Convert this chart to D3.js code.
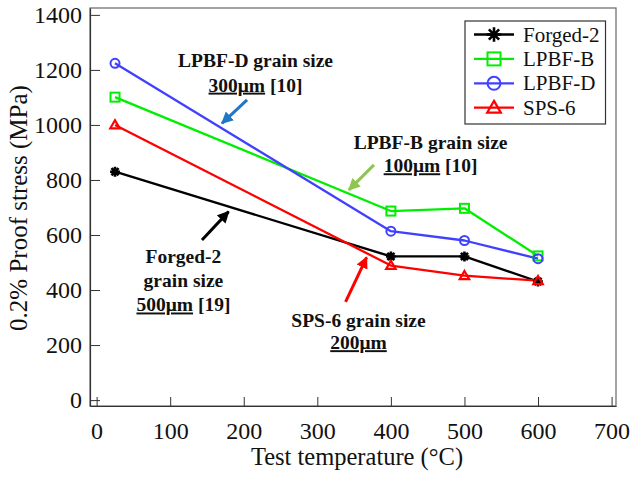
<!DOCTYPE html>
<html><head><meta charset="utf-8">
<script src="https://cdn.jsdelivr.net/npm/d3@7"></script>
<style>
html,body{margin:0;padding:0;background:#fff;}
svg{display:block;font-family:"Liberation Serif","Times New Roman",serif;}
</style></head>
<body>
<svg id="chart" width="630" height="481"></svg>
<script>
// ---- data ----
const temps = [25, 400, 500, 600];
const seriesNames = ["Forged-2", "LPBF-B", "LPBF-D", "SPS-6"];
const forged2 = [830, 522, 522, 431];
const lpbfB = [1101, 687, 697, 524];
const lpbfD = [1224, 614, 580, 514];
const sps6 = [1000, 489, 452, 434];
const xTicks = [0, 100, 200, 300, 400, 500, 600, 700];
const yTicks = [0, 200, 400, 600, 800, 1000, 1200, 1400];
const seriesColors = ["#000000", "#00ee00", "#4040ff", "#ff0000"];
const seriesMarkers = ["asterisk", "square", "circle", "triangle"];

// annotations (data coordinates)
const annoTexts = [
  {lines: [[["LPBF-D grain size", false]], [["300μm", true], [" [10]", false]]], x: 216, y: [1212, 1121]},
  {lines: [[["LPBF-B grain size", false]], [["100μm", true], [" [10]", false]]], x: 454, y: [913, 828]},
  {lines: [[["Forged-2", false]], [["grain size", false]], [["500μm", true], [" [19]", false]]], x: 118, y: [498, 411, 322]},
  {lines: [[["SPS-6 grain size", false]], [["200μm", true]]], x: 356, y: [267, 185]}
];
const arrows = [
  {from: [204.5, 1091], to: [170.4, 1006], color: "#1f78c4"},
  {from: [377, 855], to: [343, 764], color: "#8fc553"},
  {from: [143.2, 582], to: [179.4, 685], color: "#000000"},
  {from: [338.4, 357], to: [367, 519], color: "#ff0000"}
];

const allSeries = [forged2, lpbfB, lpbfD, sps6];

const svg = d3.select("#chart");
const L = 90, R = 616, T = 8, B = 406;
const x = d3.scaleLinear().domain([-9, 706]).range([L, R]);
const y = d3.scaleLinear().domain([-21.5, 1425]).range([B, T]);
const FONT = "Liberation Serif";

// frame
svg.append("rect").attr("x", L).attr("y", T).attr("width", R - L).attr("height", B - T)
  .attr("fill", "none").attr("stroke", "#666").attr("stroke-width", 1.2);

// axes (inward ticks)
const xAxis = d3.axisBottom(x).tickValues(xTicks).tickFormat(d3.format("d"))
  .tickSizeInner(-9).tickSizeOuter(0).tickPadding(16);
const gx = svg.append("g").attr("transform", `translate(0,${B})`).call(xAxis)
  .attr("font-family", FONT).attr("font-size", 24);
gx.select(".domain").attr("stroke", "#333").attr("stroke-width", 1.2);
gx.selectAll(".tick line").attr("stroke", "#333").attr("stroke-width", 1);
gx.selectAll(".tick text").attr("fill", "#111");

const yAxis = d3.axisLeft(y).tickValues(yTicks).tickFormat(d3.format("d"))
  .tickSizeInner(-10).tickSizeOuter(0).tickPadding(8);
const gy = svg.append("g").attr("transform", `translate(${L},0)`).call(yAxis)
  .attr("font-family", FONT).attr("font-size", 24);
gy.select(".domain").attr("stroke", "#333").attr("stroke-width", 1.2);
gy.selectAll(".tick line").attr("stroke", "#333").attr("stroke-width", 1);
gy.selectAll(".tick text").attr("fill", "#111");

// axis titles
svg.append("text").attr("x", (L + R) / 2 + 4).attr("y", 465).attr("text-anchor", "middle")
  .attr("font-size", 24.5).attr("fill", "#111").text("Test temperature (°C)");
svg.append("text").attr("transform", `translate(27,${(T + B) / 2 + 1}) rotate(-90)`).attr("text-anchor", "middle")
  .attr("font-size", 25).attr("fill", "#111").text("0.2% Proof stress (MPa)");

// marker drawing
function drawMarker(g, type, cx, cy, s, color) {
  const h = s / 2;
  if (type === "asterisk") {
    const hh = h * 1.1, d = hh * 0.72;
    g.append("path").attr("d",
      `M${cx - hh},${cy}L${cx + hh},${cy}M${cx},${cy - hh}L${cx},${cy + hh}` +
      `M${cx - d},${cy - d}L${cx + d},${cy + d}M${cx - d},${cy + d}L${cx + d},${cy - d}`)
      .attr("stroke", color).attr("stroke-width", 2.6).attr("fill", "none");
  } else if (type === "square") {
    g.append("rect").attr("x", cx - h).attr("y", cy - h).attr("width", s).attr("height", s)
      .attr("fill", "none").attr("stroke", color).attr("stroke-width", 2);
  } else if (type === "circle") {
    g.append("circle").attr("cx", cx).attr("cy", cy).attr("r", h)
      .attr("fill", "none").attr("stroke", color).attr("stroke-width", 2);
  } else if (type === "triangle") {
    g.append("path").attr("d", `M${cx},${cy - h * 1.05}L${cx + h * 1.05},${cy + h * 0.75}L${cx - h * 1.05},${cy + h * 0.75}Z`)
      .attr("fill", "none").attr("stroke", color).attr("stroke-width", 2.2);
  }
}

// lines
const line = d3.line().x((d, i) => x(temps[i])).y(d => y(d));
allSeries.forEach((vals, si) => {
  svg.append("path").datum(vals).attr("d", line).attr("fill", "none")
    .attr("stroke", seriesColors[si]).attr("stroke-width", 2.3).attr("stroke-linejoin", "round");
});
allSeries.forEach((vals, si) => {
  const g = svg.append("g");
  vals.forEach((v, i) => drawMarker(g, seriesMarkers[si], x(temps[i]), y(v), 9, seriesColors[si]));
});

// legend
const lg = svg.append("g");
lg.append("rect").attr("x", 465).attr("y", 21).attr("width", 140.5).attr("height", 103)
  .attr("fill", "#fff").attr("stroke", "#333").attr("stroke-width", 1.2);
seriesNames.forEach((name, i) => {
  const yy = 34.5 + i * 24.4;
  lg.append("line").attr("x1", 474).attr("x2", 514).attr("y1", yy).attr("y2", yy)
    .attr("stroke", seriesColors[i]).attr("stroke-width", 2.3);
  drawMarker(lg, seriesMarkers[i], 494, yy, 13, seriesColors[i]);
  lg.append("text").attr("x", 523).attr("y", yy + 7).attr("font-size", 21).attr("fill", "#111").text(name);
});

// arrows
const defs = svg.append("defs");
arrows.forEach((a, i) => {
  defs.append("marker").attr("id", "ah" + i).attr("viewBox", "0 0 10 10").attr("refX", 9).attr("refY", 5)
    .attr("markerWidth", 4).attr("markerHeight", 4).attr("orient", "auto")
    .append("path").attr("d", "M0,0L10,5L0,10Z").attr("fill", a.color);
  svg.append("line").attr("x1", x(a.from[0])).attr("y1", y(a.from[1]))
    .attr("x2", x(a.to[0])).attr("y2", y(a.to[1]))
    .attr("stroke", a.color).attr("stroke-width", 3).attr("marker-end", `url(#ah${i})`);
});

// annotation texts
annoTexts.forEach(a => {
  a.lines.forEach((parts, li) => {
    const t = svg.append("text").attr("x", x(a.x)).attr("y", y(a.y[li])).attr("text-anchor", "middle")
      .attr("font-size", 19.5).attr("font-weight", "bold").attr("fill", "#111");
    parts.forEach(p => {
      const ts = t.append("tspan").text(p[0]);
      if (p[1]) ts.style("text-decoration", "underline");
    });
  });
});
</script>
</body></html>
